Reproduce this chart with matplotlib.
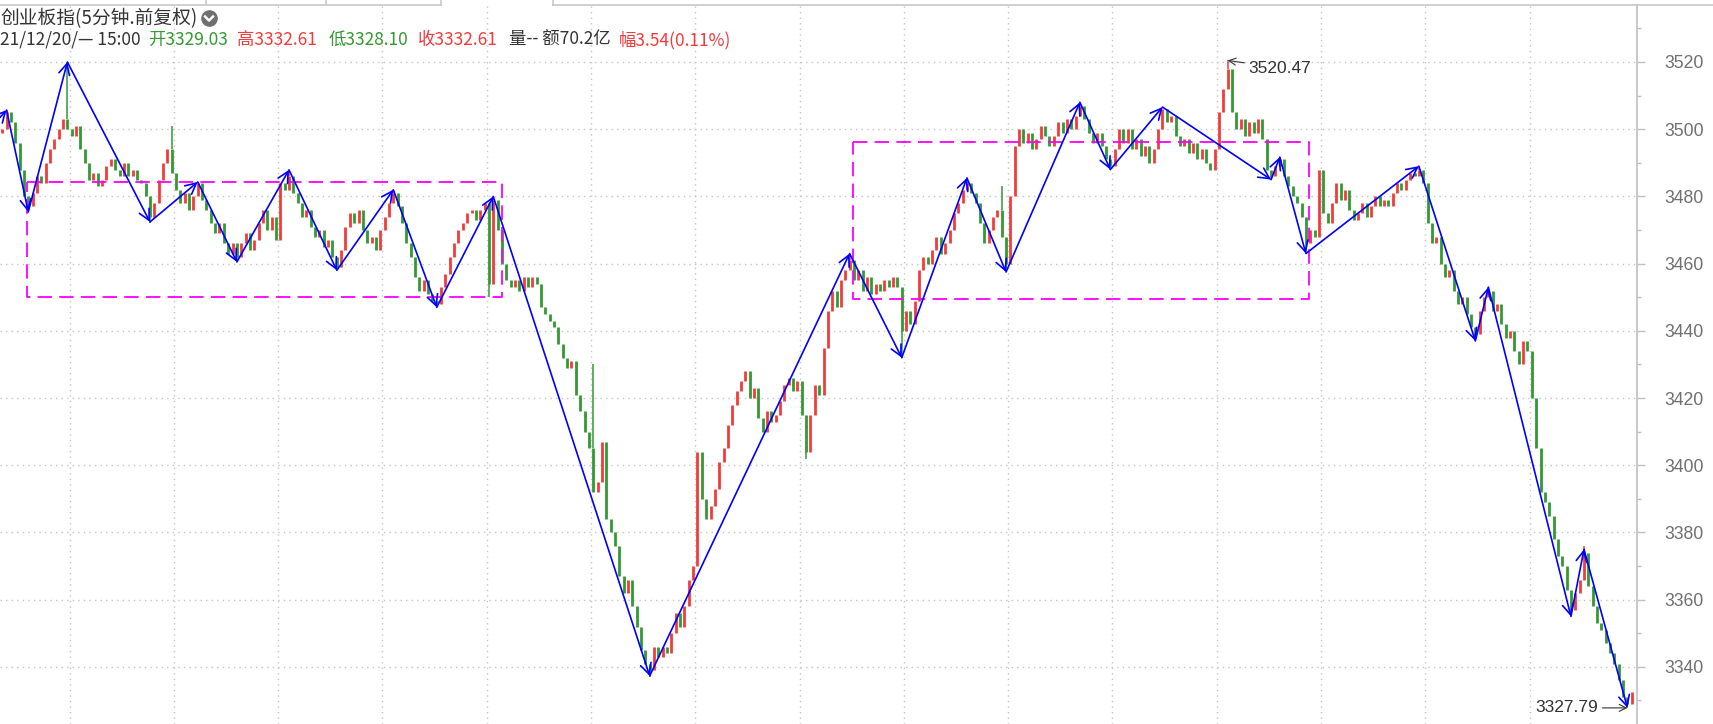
import matplotlib
matplotlib.use('Agg')
import matplotlib.pyplot as plt
import numpy as np
from matplotlib.ticker import MultipleLocator

plt.rcParams['font.family'] = ['Noto Sans CJK SC', 'DejaVu Sans']

RED = '#f23b3b'
GREEN = '#339933'
BLUE = '#0000ff'
MAGENTA = '#ff00ff'

# closing prices, one list per trading day (bars)
day0 = [3500, 3505, 3502, 3496, 3488, 3480, 3477, 3481, 3486, 3484, 3490, 3494, 3497, 3500, 3503, 3500]
day1 = [3498, 3501, 3494, 3490, 3485, 3487, 3483, 3485, 3489, 3491, 3488, 3486, 3490, 3486, 3488, 3485,
        3484, 3480, 3474, 3478, 3485, 3490, 3494, 3487]
day2 = [3482, 3478, 3481, 3476, 3480, 3484, 3479, 3476, 3472, 3469, 3472, 3466, 3463, 3466, 3462, 3466,
        3469, 3464, 3467, 3472, 3476, 3470, 3474, 3467]
day3 = [3484, 3482, 3486, 3481, 3478, 3474, 3476, 3471, 3468, 3470, 3465, 3467, 3462, 3459, 3464, 3471,
        3475, 3472, 3476, 3470, 3466, 3468, 3464, 3470]
day4 = [3474, 3478, 3481, 3477, 3472, 3466, 3462, 3456, 3452, 3455, 3451, 3449, 3448, 3453, 3457, 3462,
        3466, 3470, 3472, 3475, 3476, 3473, 3476, 3478]
day5 = [3454, 3479, 3470, 3460, 3455, 3453, 3455, 3452, 3456, 3453, 3456, 3454, 3447, 3445, 3443, 3441,
        3436, 3432, 3429, 3431, 3421, 3416, 3410, 3405]
day6 = [3392, 3395, 3407, 3384, 3380, 3376, 3367, 3362, 3366, 3358, 3352, 3345, 3341, 3339, 3346, 3343,
        3346, 3344, 3350, 3356, 3352, 3358, 3366, 3370]
day7 = [3404, 3390, 3384, 3388, 3393, 3401, 3405, 3412, 3418, 3422, 3425, 3428, 3420, 3423, 3414, 3410,
        3416, 3413, 3415, 3419, 3424, 3426, 3422, 3425]
day8 = [3415, 3404, 3415, 3424, 3421, 3435, 3446, 3452, 3447, 3455, 3458, 3461, 3455, 3458, 3452, 3456,
        3451, 3454, 3452, 3455, 3453, 3456, 3453, 3440]
day9 = [3446, 3442, 3449, 3458, 3462, 3460, 3464, 3468, 3463, 3466, 3470, 3475, 3478, 3482, 3484, 3481,
        3478, 3472, 3466, 3470, 3474, 3476, 3468, 3460]
day10 = [3480, 3495, 3500, 3496, 3499, 3494, 3497, 3501, 3498, 3495, 3498, 3502, 3499, 3503, 3500, 3504,
         3507, 3503, 3499, 3496, 3499, 3495, 3491, 3489]
day11 = [3494, 3500, 3496, 3500, 3494, 3497, 3492, 3495, 3490, 3494, 3500, 3506, 3502, 3504, 3498, 3495,
         3497, 3493, 3496, 3491, 3494, 3490, 3488, 3494]
day12 = [3505, 3512, 3518, 3505, 3500, 3503, 3498, 3502, 3499, 3503, 3497, 3488, 3486, 3489, 3491, 3486,
         3483, 3480, 3478, 3474, 3466, 3470, 3468, 3488]
day13 = [3475, 3472, 3478, 3484, 3479, 3482, 3476, 3473, 3475, 3478, 3474, 3477, 3480, 3477, 3479, 3477,
         3481, 3484, 3482, 3485, 3487, 3486, 3488, 3484]
day14 = [3472, 3466, 3468, 3460, 3456, 3458, 3452, 3448, 3450, 3445, 3441, 3439, 3446, 3450, 3452, 3446,
         3448, 3442, 3438, 3440, 3434, 3430, 3437, 3434]
day15 = [3420, 3405, 3392, 3389, 3385, 3378, 3373, 3370, 3363, 3357, 3362, 3366, 3374, 3364, 3358, 3353,
         3351, 3347, 3344, 3341, 3336, 3331, 3329.03, 3332.61]
first_open = 3499

# long upper / lower shadows
spike_idx = [1, 15, 39, 45, 66, 90, 113, 136, 195, 222, 230, 248, 267, 282, 294, 326, 342, 364]
spike_high = [3505.7, 3520, 3501, 3484.3, 3488, 3482, 3480, 3430, 3463, 3485.5, 3483, 3508, 3506.6,
              3520.47, 3491.7, 3489, 3453, 3376]
dip_idx = [6, 34, 54, 77, 100, 112, 149, 185, 207, 231, 255, 292, 300, 339, 361, 374]
dip_low = [3475, 3472, 3460.5, 3458, 3447, 3450, 3337, 3402, 3432, 3457.5, 3488, 3485, 3463, 3437,
           3355, 3327.79]

# hand-drawn zigzag (bar index, price)
zz_idx = [-0.5, 1, 6, 15, 34, 45, 54, 66, 77, 90, 100, 113, 149, 195, 207, 222, 231, 248, 255, 267,
          292, 294, 300, 326, 339, 342, 361, 364, 374]
zz_price = [3503.5, 3505.7, 3475.4, 3520, 3472.4, 3484.3, 3460.5, 3487.9, 3458, 3482, 3447, 3480,
            3337.3, 3463, 3432, 3485.5, 3457.5, 3508, 3488, 3506.6, 3485, 3491.7, 3463, 3489, 3437,
            3453, 3355, 3375, 3327.8]

# consolidation boxes: (left idx, right idx, low, high)
box_left = [5.7, 195.8]
box_right = [115.0, 300.7]
box_low = [3450, 3449.5]
box_high = [3484.3, 3496.2]

closes = np.array(day0 + day1 + day2 + day3 + day4 + day5 + day6 + day7 + day8 + day9 +
                  day10 + day11 + day12 + day13 + day14 + day15, dtype=float)
n = len(closes)
idx = np.arange(n)
opens = np.r_[first_open, closes[:-1]]
colors = np.where(closes >= opens, RED, GREEN)

W, H = 1713, 724
fig = plt.figure(figsize=(W / 100, H / 100), dpi=100)
fig.patch.set_facecolor('white')
ax = fig.add_axes([0, 0, 1637 / W, 719 / H])
ax.set_facecolor('white')

ax.set_xlim(-0.506, 376.2)
ax.set_ylim(3323.0, 3536.96)

# grid
for k in range(15):
    ax.axvline(15.5 + 24 * k, color='#c4c4c4', lw=1.0, ls=(0, (1, 3)), zorder=0)
for p in range(3340, 3521, 20):
    ax.axhline(p, color='#c4c4c4', lw=1.0, ls=(0, (1, 3)), zorder=0)

# candles
ax.vlines(idx, opens, closes, colors=colors, lw=2.0, zorder=2)
for i, h in zip(spike_idx, spike_high):
    ax.vlines(i, max(opens[i], closes[i]), h, colors=colors[i], lw=1.1, zorder=2)
for i, l in zip(dip_idx, dip_low):
    ax.vlines(i, l, min(opens[i], closes[i]), colors=colors[i], lw=1.1, zorder=2)

# boxes
for l, r, lo, hi in zip(box_left, box_right, box_low, box_high):
    ax.plot([l, r, r, l, l], [hi, hi, lo, lo, hi], color=MAGENTA, lw=1.3,
            ls=(0, (8, 4)), zorder=3)

# zigzag with arrow heads
for k in range(len(zz_idx) - 1):
    ax.annotate('', xy=(zz_idx[k + 1], zz_price[k + 1]), xytext=(zz_idx[k], zz_price[k]),
                arrowprops=dict(arrowstyle='->,head_length=0.55,head_width=0.28', color=BLUE,
                                lw=1.2, shrinkA=0, shrinkB=0, mutation_scale=14), zorder=4)

# extremes
ax.annotate('3520.47', xy=(282, 3520.47), xytext=(15, -5.5), textcoords='offset points',
            ha='left', va='center', fontsize=12.5, color='#333333', family='Liberation Sans',
            arrowprops=dict(arrowstyle='->', color='#333333', lw=0.8, shrinkA=1, shrinkB=0))
ax.annotate('3327.79', xy=(374, 3327.79), xytext=(-21, 0), textcoords='offset points',
            ha='right', va='center', fontsize=12.5, color='#333333', family='Liberation Sans',
            arrowprops=dict(arrowstyle='->', color='#333333', lw=0.8, shrinkA=1, shrinkB=0))

# right price axis
for s in ['left', 'top', 'bottom']:
    ax.spines[s].set_visible(False)
ax.spines['right'].set_color('#c0c0c0')
ax.spines['right'].set_linewidth(1.2)
ax.yaxis.tick_right()
ax.set_xticks([])
ax.yaxis.set_major_locator(MultipleLocator(20))
ax.yaxis.set_minor_locator(MultipleLocator(10))
ax.tick_params(axis='y', which='major', length=6, width=1, color='#c0c0c0', pad=13.4,
               labelsize=12.7, labelcolor='#707070', labelfontfamily='Liberation Sans')
ax.tick_params(axis='y', which='minor', length=3.2, width=1, color='#c0c0c0')

# header overlay in pixel coordinates
ov = fig.add_axes([0, 0, 1, 1], zorder=10)
ov.set_xlim(0, W)
ov.set_ylim(H, 0)
ov.axis('off')
ov.patch.set_alpha(0)
ov.plot([0, 441], [5, 5], color='#c8c8c8', lw=1.2)
ov.plot([553, W], [5, 5], color='#c8c8c8', lw=1.2)
for x in [206, 326, 441, 553]:
    ov.plot([x, x], [0, 5], color='#c8c8c8', lw=1.2)

ov.text(1, 19, '创业板指(5分钟.前复权)', fontsize=13.5, color='#333333', va='center', ha='left')
ov.scatter([209], [18], s=120, color='#6f6f6f', zorder=11)
ov.plot([205, 209, 213], [16.5, 20.5, 16.5], color='white', lw=1.8, zorder=12)

header = [('21/12/20/— 15:00', 0, '#333333'), ('开3329.03', 148, GREEN), ('高3332.61', 237, RED),
          ('低3328.10', 329, GREEN), ('收3332.61', 418, RED), ('量-- 额70.2亿', 509, '#333333'),
          ('幅3.54(0.11%)', 619, RED)]
for txt, x, c in header:
    ov.text(x, 40, txt, fontsize=12.5, color=c, va='center', ha='left')

fig.savefig('out.png', dpi=100, facecolor='white')
